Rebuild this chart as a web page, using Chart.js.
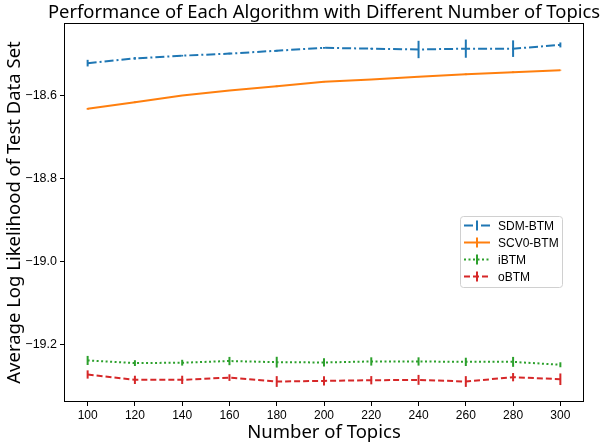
<!DOCTYPE html>
<html>
<head>
<meta charset="utf-8">
<script src="https://cdn.jsdelivr.net/npm/chart.js@4/dist/chart.umd.min.js"></script>
<style>
  html, body { margin: 0; padding: 0; background: #fff; }
  #wrap { width: 602px; height: 444px; position: relative; }
</style>
</head>
<body>
<div id="wrap"><canvas id="chart"></canvas></div>
<script>
// --- data ---
const topics = [100, 120, 140, 160, 180, 200, 220, 240, 260, 280, 300];

const sdmBtm = [-18.521, -18.5095, -18.503, -18.498, -18.491, -18.484, -18.486, -18.488, -18.486, -18.486, -18.477];
const sdmErr = [0.008, 0.003, 0.002, 0.002, 0.002, 0.002, 0.002, 0.021, 0.022, 0.02, 0.006];

const scv0Btm = [-18.6315, -18.6155, -18.5993, -18.587, -18.577, -18.566, -18.5605, -18.554, -18.548, -18.543, -18.538];
const scv0Err = [0.002, 0.002, 0.001, 0.001, 0.002, 0.001, 0.001, 0.001, 0.002, 0.002, 0.001];

const iBtm = [-19.2396, -19.246, -19.245, -19.241, -19.2437, -19.2445, -19.242, -19.242, -19.243, -19.243, -19.25];
const iErr = [0.011, 0.007, 0.007, 0.01, 0.013, 0.01, 0.01, 0.01, 0.01, 0.012, 0.006];

const oBtm = [-19.2735, -19.2865, -19.2865, -19.281, -19.2905, -19.289, -19.2874, -19.2865, -19.2905, -19.28, -19.285];
const oErr = [0.01, 0.01, 0.01, 0.008, 0.013, 0.011, 0.01, 0.012, 0.013, 0.01, 0.014];

const yTicks = [-19.2, -19.0, -18.8, -18.6];
const xTicks = topics;

const LABEL_FONT = '"Noto Sans", sans-serif';
const TICK_FONT = '"Liberation Sans", Arial, sans-serif';

function pts(ys, errs) {
    return topics.map((x, i) => ({ x: x, y: ys[i], err: errs[i] }));
}

function makeSet(label, ys, errs, color, dash) {
    return {
        label: label,
        data: pts(ys, errs),
        borderColor: color,
        backgroundColor: color,
        borderWidth: 2,
        borderDash: dash,
        pointRadius: 0,
        tension: 0,
        fill: false
    };
}

// --- error bars, axes frame, title and legend drawn through the scales ---
const extras = {
    id: 'extras',
    afterDatasetsDraw(chart) {
        const ctx = chart.ctx;
        const xs = chart.scales.x, ys = chart.scales.y;
        chart.data.datasets.forEach(ds => {
            ctx.save();
            ctx.strokeStyle = ds.borderColor;
            ctx.lineWidth = 2;
            ds.data.forEach(p => {
                const px = xs.getPixelForValue(p.x);
                ctx.beginPath();
                ctx.moveTo(px, ys.getPixelForValue(p.y - p.err));
                ctx.lineTo(px, ys.getPixelForValue(p.y + p.err));
                ctx.stroke();
            });
            ctx.restore();
        });
    },
    afterDraw(chart) {
        const ctx = chart.ctx;
        const a = chart.chartArea;
        ctx.save();
        // frame
        ctx.strokeStyle = '#000';
        ctx.lineWidth = 1;
        ctx.strokeRect(a.left + 0.5, a.top + 0.5, a.right - a.left - 1, a.bottom - a.top - 1);

        // title
        ctx.fillStyle = '#000';
        ctx.font = '18.4px ' + LABEL_FONT;
        ctx.textAlign = 'center';
        ctx.textBaseline = 'alphabetic';
        ctx.fillText('Performance of Each Algorithm with Different Number of Topics', (a.left + a.right) / 2, 18);

        // legend
        const bx = 460, by = 216, bw = 102, bh = 71;
        ctx.fillStyle = 'rgba(255,255,255,0.8)';
        ctx.strokeStyle = '#d0d0d0';
        ctx.lineWidth = 1;
        ctx.beginPath();
        ctx.roundRect(bx + 0.5, by + 0.5, bw, bh, 3);
        ctx.fill();
        ctx.stroke();
        ctx.font = '12px ' + TICK_FONT;
        ctx.textAlign = 'left';
        ctx.textBaseline = 'middle';
        chart.data.datasets.forEach((ds, i) => {
            const ry = by + 9.5 + i * 17;
            ctx.strokeStyle = ds.borderColor;
            ctx.lineWidth = 2;
            ctx.setLineDash(ds.borderDash || []);
            ctx.beginPath();
            ctx.moveTo(bx + 4, ry);
            ctx.lineTo(bx + 30, ry);
            ctx.stroke();
            ctx.setLineDash([]);
            ctx.beginPath();
            ctx.moveTo(bx + 17, ry - 5);
            ctx.lineTo(bx + 17, ry + 5);
            ctx.stroke();
            ctx.fillStyle = '#000';
            ctx.fillText(ds.label, bx + 38, ry + 1);
        });
        ctx.restore();
    }
};

new Chart(document.getElementById('chart'), {
    type: 'line',
    data: {
        datasets: [
            makeSet('SDM-BTM', sdmBtm, sdmErr, '#1f77b4', [9, 3, 2, 3]),
            makeSet('SCV0-BTM', scv0Btm, scv0Err, '#ff7f0e', []),
            makeSet('iBTM', iBtm, iErr, '#2ca02c', [2, 2.5]),
            makeSet('oBTM', oBtm, oErr, '#d62728', [6, 3])
        ]
    },
    options: {
        responsive: true,
        maintainAspectRatio: false,
        animation: false,
        layout: { padding: { top: 23, right: 18, left: 0, bottom: 0 } },
        plugins: {
            legend: { display: false },
            tooltip: { enabled: false }
        },
        scales: {
            x: {
                type: 'linear',
                min: 90,
                max: 310,
                afterBuildTicks: (s) => { s.ticks = xTicks.map(v => ({ value: v })); },
                afterFit: (s) => { s.height = 42; },
                grid: { drawOnChartArea: false, drawTicks: true, tickLength: 4, tickColor: '#000' },
                border: { display: false },
                ticks: { color: '#000', font: { family: TICK_FONT, size: 12 }, padding: 2, maxRotation: 0 },
                title: { display: true, text: 'Number of Topics', color: '#000', font: { family: LABEL_FONT, size: 18.5 }, padding: { top: 0, bottom: 0 } }
            },
            y: {
                min: -19.34,
                max: -18.424,
                afterBuildTicks: (s) => { s.ticks = yTicks.map(v => ({ value: v })); },
                afterFit: (s) => { s.width = 64; },
                grid: { drawOnChartArea: false, drawTicks: true, tickLength: 4, tickColor: '#000' },
                border: { display: false },
                ticks: {
                    color: '#000',
                    font: { family: TICK_FONT, size: 12.5 },
                    padding: 3,
                    callback: (v) => (v < 0 ? '\u2212' : '') + Math.abs(v).toFixed(1)
                },
                title: { display: true, text: 'Average Log Likelihood of Test Data Set', color: '#000', font: { family: LABEL_FONT, size: 18.5 }, padding: { top: 4, bottom: 0 } }
            }
        }
    },
    plugins: [extras]
});
</script>
</body>
</html>
